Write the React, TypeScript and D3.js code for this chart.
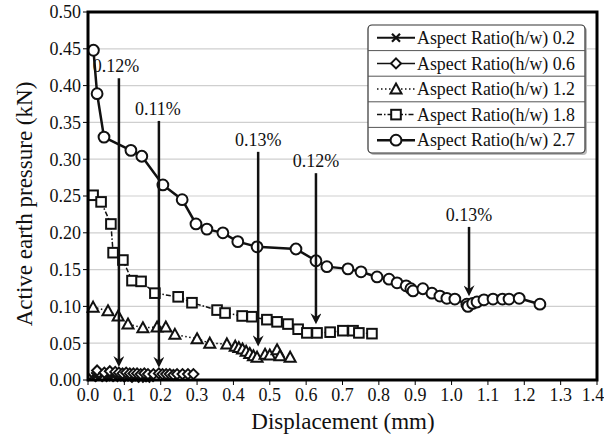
import React from 'react';
import * as d3 from 'd3';

const width = 604;
const height = 437;
const margin = { top: 12, right: 7, bottom: 57, left: 88 };

// Aspect Ratio(h/w) 0.2  (crosses)
const ar02x = [0.01, 0.02, 0.03, 0.04, 0.05, 0.06, 0.07, 0.08, 0.09, 0.10, 0.11, 0.12, 0.13, 0.14, 0.15, 0.16, 0.17];
const ar02y = [0.004, 0.005, 0.003, 0.006, 0.004, 0.003, 0.005, 0.004, 0.003, 0.004, 0.003, 0.004, 0.002, 0.004, 0.003, 0.002, 0.003];
// Aspect Ratio(h/w) 0.6  (diamonds)
const ar06x = [0.025, 0.045, 0.06, 0.075, 0.085, 0.095, 0.105, 0.115, 0.125, 0.135, 0.145, 0.155, 0.165, 0.18, 0.195, 0.205, 0.215, 0.225, 0.235, 0.245, 0.26, 0.275, 0.29];
const ar06y = [0.013, 0.010, 0.012, 0.011, 0.010, 0.009, 0.010, 0.009, 0.009, 0.009, 0.008, 0.009, 0.008, 0.008, 0.009, 0.008, 0.008, 0.008, 0.007, 0.008, 0.008, 0.008, 0.008];
// Aspect Ratio(h/w) 1.2  (triangles)
const ar12x = [0.014, 0.055, 0.083, 0.110, 0.151, 0.190, 0.214, 0.239, 0.300, 0.335, 0.382, 0.405, 0.415, 0.425, 0.435, 0.445, 0.455, 0.465, 0.487, 0.500, 0.520, 0.528, 0.556];
const ar12y = [0.099, 0.094, 0.087, 0.076, 0.071, 0.072, 0.072, 0.062, 0.056, 0.050, 0.049, 0.046, 0.044, 0.042, 0.039, 0.036, 0.033, 0.031, 0.035, 0.034, 0.041, 0.033, 0.031];
// Aspect Ratio(h/w) 1.8  (squares)
const ar18x = [0.014, 0.036, 0.063, 0.069, 0.096, 0.121, 0.146, 0.184, 0.248, 0.286, 0.355, 0.377, 0.424, 0.451, 0.492, 0.520, 0.550, 0.578, 0.602, 0.630, 0.666, 0.701, 0.729, 0.745, 0.781];
const ar18y = [0.251, 0.242, 0.212, 0.173, 0.163, 0.135, 0.134, 0.118, 0.113, 0.105, 0.095, 0.091, 0.087, 0.086, 0.082, 0.079, 0.076, 0.069, 0.064, 0.064, 0.065, 0.067, 0.067, 0.064, 0.063];
// Aspect Ratio(h/w) 2.7  (circles)
const ar27x = [0.015, 0.025, 0.044, 0.118, 0.148, 0.206, 0.259, 0.297, 0.327, 0.371, 0.412, 0.465, 0.572, 0.627, 0.657, 0.715, 0.751, 0.795, 0.828, 0.850, 0.875, 0.888, 0.894, 0.921, 0.946, 0.968, 0.987, 1.009, 1.042, 1.045, 1.058, 1.070, 1.089, 1.114, 1.140, 1.158, 1.186, 1.243];
const ar27y = [0.448, 0.389, 0.330, 0.312, 0.304, 0.265, 0.245, 0.212, 0.205, 0.200, 0.188, 0.181, 0.178, 0.162, 0.154, 0.151, 0.147, 0.140, 0.137, 0.132, 0.128, 0.124, 0.121, 0.124, 0.118, 0.114, 0.111, 0.110, 0.103, 0.100, 0.104, 0.106, 0.109, 0.110, 0.110, 0.110, 0.111, 0.103];

const seriesNames = ['Aspect Ratio(h/w) 0.2', 'Aspect Ratio(h/w) 0.6', 'Aspect Ratio(h/w) 1.2', 'Aspect Ratio(h/w) 1.8', 'Aspect Ratio(h/w) 2.7'];
const seriesX = [ar02x, ar06x, ar12x, ar18x, ar27x];
const seriesY = [ar02y, ar06y, ar12y, ar18y, ar27y];
const markerKinds = ['cross', 'diamond', 'triangle', 'square', 'circle'];
const lineDash = [null, null, '1.5,2.5', '5,2,1.5,2', null];
const lineWidth = [2, 1.5, 1.5, 1.5, 2.5];

// annotation arrows
const arrowLabels = ['0.12%', '0.11%', '0.13%', '0.12%', '0.13%'];
const arrowX = [0.085, 0.195, 0.468, 0.627, 1.048];
const arrowTop = [0.41, 0.352, 0.31, 0.281, 0.208];
const arrowTip = [0.017, 0.016, 0.045, 0.075, 0.113];
const labelShift = [-3, -1, 0, 0, 0];

const xTicks = d3.range(0, 15).map(i => i / 10);
const yTicks = d3.range(0, 11).map(i => i * 0.05);

const x = d3.scaleLinear().domain([0, 1.4]).range([margin.left, width - margin.right]);
const y = d3.scaleLinear().domain([0, 0.5]).range([height - margin.bottom, margin.top]);

const font = '"Liberation Serif", "Times New Roman", serif';

function Marker({ kind, cx, cy }: { kind: string; cx: number; cy: number }) {
  const st = { fill: 'white', stroke: '#111', strokeWidth: 2 };
  if (kind === 'circle') return <circle cx={cx} cy={cy} r={5.4} {...st} />;
  if (kind === 'square') return <rect x={cx - 4.8} y={cy - 4.8} width={9.6} height={9.6} {...st} />;
  if (kind === 'triangle') {
    const p = d3.path();
    p.moveTo(cx, cy - 5.5); p.lineTo(cx + 5.5, cy + 4.5); p.lineTo(cx - 5.5, cy + 4.5); p.closePath();
    return <path d={p.toString()} {...st} />;
  }
  if (kind === 'diamond') {
    const p = d3.path();
    p.moveTo(cx, cy - 5); p.lineTo(cx + 5, cy); p.lineTo(cx, cy + 5); p.lineTo(cx - 5, cy); p.closePath();
    return <path d={p.toString()} {...st} />;
  }
  const p = d3.path();
  p.moveTo(cx - 4, cy - 4); p.lineTo(cx + 4, cy + 4); p.moveTo(cx + 4, cy - 4); p.lineTo(cx - 4, cy + 4);
  return <path d={p.toString()} stroke="#111" strokeWidth={2.2} fill="none" />;
}

export default function App() {
  const line = d3.line<[number, number]>().x(d => x(d[0])).y(d => y(d[1]));
  const plotW = width - margin.left - margin.right;
  const plotH = height - margin.top - margin.bottom;

  const legX = 368, legY = 25, legW = 217, rowH = 25.6;

  return (
    <svg width={width} height={height} style={{ position: 'absolute', left: 0, top: 0, background: 'white', fontFamily: font }}>
      <defs>
        <marker id="arrowhead" viewBox="0 0 12 12" refX="6" refY="6" markerWidth="13" markerHeight="11" markerUnits="userSpaceOnUse" orient="auto">
          <path d="M0,0 L4,6 L0,12 L12,6 Z" fill="#111" />
        </marker>
      </defs>
      {/* gridlines */}
      {yTicks.slice(1, -1).map(t => (
        <line key={t} x1={margin.left} x2={width - margin.right} y1={y(t)} y2={y(t)} stroke="#cfcfcf" strokeWidth={1.2} />
      ))}
      {/* series */}
      {seriesX.map((xs, si) => {
        const pts = xs.map((v, i) => [v, seriesY[si][i]] as [number, number]);
        return (
          <g key={si}>
            <path d={line(pts) || ''} fill="none" stroke="#111" strokeWidth={lineWidth[si]} strokeDasharray={lineDash[si] || undefined} />
            {pts.map((p, i) => <Marker key={i} kind={markerKinds[si]} cx={x(p[0])} cy={y(p[1])} />)}
          </g>
        );
      })}
      {/* arrows */}
      {arrowX.map((ax, i) => (
        <g key={i}>
          <line x1={x(ax)} x2={x(ax)} y1={y(arrowTop[i])} y2={y(arrowTip[i]) - 6} stroke="#111" strokeWidth={2.5} markerEnd="url(#arrowhead)" />
          <text x={x(ax) + labelShift[i]} y={y(arrowTop[i]) - 6} fontSize={18} textAnchor="middle" fill="#111">{arrowLabels[i]}</text>
        </g>
      ))}
      {/* plot frame */}
      <rect x={margin.left} y={margin.top} width={plotW} height={plotH} fill="none" stroke="#000" strokeWidth={3} />
      {/* y ticks */}
      {yTicks.map(t => (
        <g key={t}>
          <line x1={margin.left - 5} x2={margin.left} y1={y(t)} y2={y(t)} stroke="#000" strokeWidth={1} />
          <text x={margin.left - 7} y={y(t)} dy="0.35em" fontSize={18} textAnchor="end" fill="#111">{t.toFixed(2)}</text>
        </g>
      ))}
      {/* x ticks */}
      {xTicks.map((t, i) => (
        <g key={t}>
          <line x1={x(t)} x2={x(t)} y1={height - margin.bottom} y2={height - margin.bottom + 5} stroke="#000" strokeWidth={1} />
          <text x={x(t) - (i === xTicks.length - 1 ? 4 : 0)} y={height - margin.bottom + 21} fontSize={18} textAnchor="middle" fill="#111">{t.toFixed(1)}</text>
        </g>
      ))}
      <text x={343} y={429} fontSize={23} textAnchor="middle" fill="#111">Displacement (mm)</text>
      <text transform={`translate(32,${margin.top + plotH / 2 + 8}) rotate(-90)`} fontSize={23} textAnchor="middle" fill="#111">Active earth pressure (kN)</text>
      {/* legend */}
      <rect x={legX + 2} y={legY + 2} width={legW} height={rowH * 5} rx={4} fill="#bbb" />
      <rect x={legX} y={legY} width={legW} height={rowH * 5} rx={4} fill="white" stroke="#333" strokeWidth={1.2} />
      {seriesNames.map((name, i) => {
        const cy = legY + rowH * i + rowH / 2;
        return (
          <g key={name}>
            {i > 0 && <line x1={legX} x2={legX + legW} y1={legY + rowH * i} y2={legY + rowH * i} stroke="#555" strokeWidth={1} />}
            <line x1={legX + 9} x2={legX + 47} y1={cy} y2={cy} stroke="#111" strokeWidth={lineWidth[i]} strokeDasharray={lineDash[i] || undefined} />
            <Marker kind={markerKinds[i]} cx={legX + 28} cy={cy} />
            <text x={legX + 49} y={cy} dy="0.33em" fontSize={19} textLength={158} lengthAdjust="spacingAndGlyphs" fill="#111">{name}</text>
          </g>
        );
      })}
    </svg>
  );
}
